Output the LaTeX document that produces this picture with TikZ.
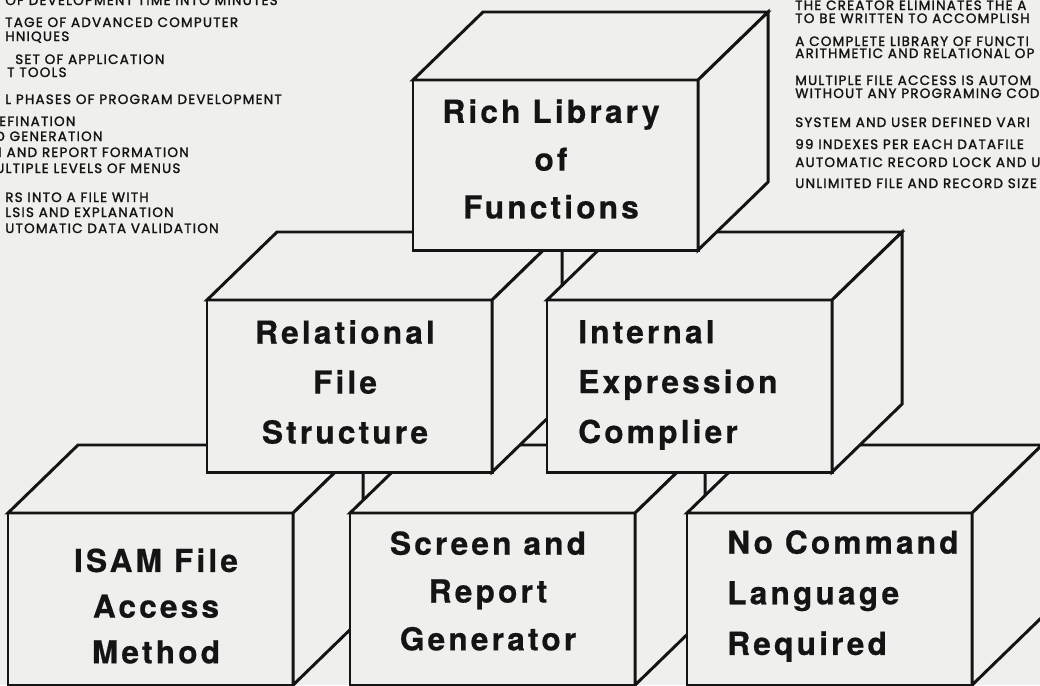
\documentclass[tikz,border=0pt]{standalone}
\usepackage{fontspec}
\usepackage{xcolor}
\usepackage{tikz}
\usetikzlibrary{calc}

\newfontfamily\boxfont[LetterSpace=10, BoldFeatures={FakeBold=0.6}]{TeX Gyre Heros}
\newfontfamily\notefont[LetterSpace=9, FakeBold=1.6]{Poppins}
\definecolor{paper}{RGB}{239,239,237}
\definecolor{ink}{RGB}{20,20,20}

\begin{document}
\begin{tikzpicture}[x=0.025cm, y=-0.025cm,
  face/.style={draw=ink, line width=2.1pt, fill=paper, inner sep=0pt,
    outer sep=0pt, minimum width=7.125cm, minimum height=4.3cm,
    anchor=north west},
  side/.style={draw=ink, line width=2.1pt, fill=paper},
  caption/.style={font=\boxfont\bfseries\fontsize{22.5}{#1}\selectfont,
    text=ink, inner sep=0pt},
  caption/.default=34,
  note/.style={font=\notefont\fontsize{9.6}{11}\selectfont, text=ink,
    inner sep=0pt, anchor=base west}]

  % Page
  \useasboundingbox (0,0) rectangle (1040,685);
  \clip (0,0) rectangle (1040,685);
  \fill[paper] (0,0) rectangle (1040,685);

  % Notes on the left (cut by the page edge)
  \node[note] (l1) at (5,5) {OF DEVELOPMENT TIME INTO MINUTES};
  \node[note] (l2) at (5,27) {TAGE OF ADVANCED COMPUTER};
  \node[note] (l3) at (5,41) {HNIQUES};
  \node[note] (l4) at (15,64) {SET OF APPLICATION};
  \node[note] (l5) at (7,77) {T TOOLS};
  \node[note] (l6) at (5,104) {L PHASES OF PROGRAM DEVELOPMENT};
  \node[note] (l7) at (-1,126) {EFINATION};
  \node[note] (l8) at (-5,141) {D GENERATION};
  \node[note] (l9) at (-8,157) {N AND REPORT FORMATION};
  \node[note] (l10) at (-5,173) {ULTIPLE LEVELS OF MENUS};
  \node[note] (l11) at (5,202) {RS INTO A FILE WITH};
  \node[note] (l12) at (5,217) {LSIS AND EXPLANATION};
  \node[note] (l13) at (5,233) {UTOMATIC DATA VALIDATION};

  % Notes on the right (cut by the page edge)
  \node[note] (r1) at (795,10) {THE CREATOR ELIMINATES THE A};
  \node[note] (r2) at (795,23) {TO BE WRITTEN TO ACCOMPLISH};
  \node[note] (r3) at (795,46) {A COMPLETE LIBRARY OF FUNCTI};
  \node[note] (r4) at (795,58) {ARITHMETIC AND RELATIONAL OP};
  \node[note] (r5) at (795,85) {MULTIPLE FILE ACCESS IS AUTOM};
  \node[note] (r6) at (795,98) {WITHOUT ANY PROGRAMING CODE};
  \node[note] (r7) at (795,127) {SYSTEM AND USER DEFINED VARI};
  \node[note] (r8) at (795,149) {99 INDEXES PER EACH DATAFILE};
  \node[note] (r9) at (795,167) {AUTOMATIC RECORD LOCK AND U};
  \node[note] (r10) at (795,188) {UNLIMITED FILE AND RECORD SIZE};

  % Bottom row: ISAM file access
  \node[face] (isam) at (8,513) {};
  \filldraw[side] (isam.north west) -- ++(70,-68)
    -- ($(isam.north east)+(70,-68)$) -- (isam.north east) -- cycle;
  \filldraw[side] (isam.north east) -- ++(70,-68)
    -- ($(isam.south east)+(70,-68)$) -- (isam.south east) -- cycle;
  \node[caption=32.5, align=center] (isamtxt) at (156,606) {ISAM File\\Access\\Method};

  % Bottom row: screen and report generator
  \node[face] (scr) at (350,513) {};
  \filldraw[side] (scr.north west) -- ++(70,-68)
    -- ($(scr.north east)+(70,-68)$) -- (scr.north east) -- cycle;
  \filldraw[side] (scr.north east) -- ++(70,-68)
    -- ($(scr.south east)+(70,-68)$) -- (scr.south east) -- cycle;
  \node[caption, align=center] (scrtxt) at (488,591) {Screen and\\Report\\Generator};

  % Bottom row: no command language
  \node[face] (nocmd) at (687,513) {};
  \filldraw[side] (nocmd.north west) -- ++(70,-68)
    -- ($(nocmd.north east)+(70,-68)$) -- (nocmd.north east) -- cycle;
  \filldraw[side] (nocmd.north east) -- ++(70,-68)
    -- ($(nocmd.south east)+(70,-68)$) -- (nocmd.south east) -- cycle;
  \node[caption=36, align=left, anchor=west] (nocmdtxt) at (727,596) {No Command\\Language\\Required};

  % Middle row: relational file structure
  \node[face] (rel) at (207,300) {};
  \filldraw[side] (rel.north west) -- ++(70,-68)
    -- ($(rel.north east)+(70,-68)$) -- (rel.north east) -- cycle;
  \filldraw[side] (rel.north east) -- ++(70,-68)
    -- ($(rel.south east)+(70,-68)$) -- (rel.south east) -- cycle;
  \node[caption=35.5, align=center] (reltxt) at (345,382) {Relational\\File\\Structure};

  % Middle row: internal expression compiler
  \node[face] (intx) at (547,300) {};
  \filldraw[side] (intx.north west) -- ++(70,-68)
    -- ($(intx.north east)+(70,-68)$) -- (intx.north east) -- cycle;
  \filldraw[side] (intx.north east) -- ++(70,-68)
    -- ($(intx.south east)+(70,-68)$) -- (intx.south east) -- cycle;
  \node[caption=35.5, align=left, anchor=west] (intxtxt) at (578,385) {Internal\\Expression\\Complier};

  % Top: rich library of functions
  \node[face, minimum height=4.25cm] (lib) at (413,80) {};
  \filldraw[side] (lib.north west) -- ++(70,-68)
    -- ($(lib.north east)+(70,-68)$) -- (lib.north east) -- cycle;
  \filldraw[side] (lib.north east) -- ++(70,-68)
    -- ($(lib.south east)+(70,-68)$) -- (lib.south east) -- cycle;
  \node[caption, align=center] (libtxt) at (551,159) {Rich Library\\of\\Functions};
\end{tikzpicture}
\end{document}
